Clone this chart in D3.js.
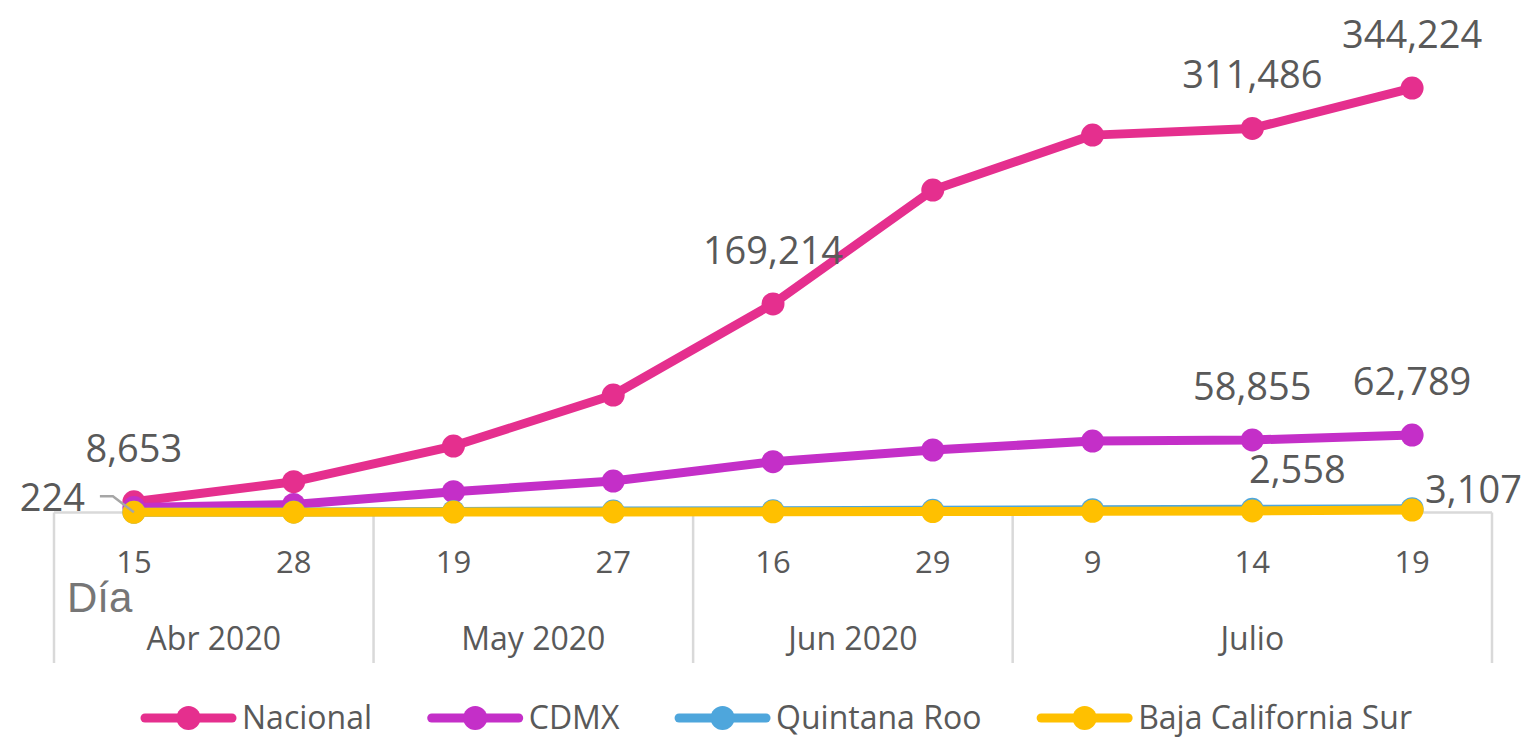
<!doctype html>
<html>
<head>
<meta charset="utf-8">
<style>
  body { margin: 0; background: #fff; }
  svg text { font-family: "Open Sans", sans-serif; fill: #595959; }
</style>
</head>
<body>
<script src="https://d3js.org/d3.v7.min.js"></script>
<svg id="chart" width="1526" height="737"></svg>
<script>
// categories (two-level axis)
const days = ['15', '28', '19', '27', '16', '29', '9', '14', '19'];
const months = ['Abr 2020', 'May 2020', 'Jun 2020', 'Julio'];
const monthSpans = [2, 2, 2, 3];

// series values
const seriesNames = ['Nacional', 'CDMX', 'Quintana Roo', 'Baja California Sur'];
const nacional = [8653, 25000, 53900, 95300, 169214, 261500, 306100, 311486, 344224];
const cdmx = [4000, 6500, 16900, 25500, 41200, 50700, 57900, 58855, 62789];
const quintanaRoo = [224, 500, 900, 1200, 1500, 1800, 2300, 2558, 3107];
const bajaCaliforniaSur = [150, 230, 350, 450, 600, 800, 1000, 1300, 2000];

const colors = ['#e52f8e', '#c42fc8', '#4ea6dc', '#ffc000'];
const allSeries = [nacional, cdmx, quintanaRoo, bajaCaliforniaSur];

// which points carry a value label and where it sits
const labelled = [
  { s: 0, i: 0, place: 'above' },
  { s: 0, i: 4, place: 'above' },
  { s: 0, i: 7, place: 'above' },
  { s: 0, i: 8, place: 'above' },
  { s: 1, i: 7, place: 'above' },
  { s: 1, i: 8, place: 'above' },
  { s: 2, i: 0, place: 'leader' },
  { s: 2, i: 7, place: 'aboveRight' },
  { s: 2, i: 8, place: 'right' }
];

const svg = d3.select('#chart');

const x = d3.scaleBand()
  .domain(d3.range(days.length))
  .range([54, 1492]);
const cx = i => x(i) + x.bandwidth() / 2;

const y = d3.scaleLinear()
  .domain([0, 350000])
  .range([512.5, 81]);

const fmt = d3.format(',');
const grid = '#d9d9d9';

// axis: baseline and group separators
svg.append('line')
  .attr('x1', x.range()[0]).attr('x2', x.range()[1])
  .attr('y1', y(0)).attr('y2', y(0))
  .attr('stroke', grid).attr('stroke-width', 2.5);

let start = 0;
const bounds = [0];
monthSpans.forEach(n => { start += n; bounds.push(start); });
bounds.forEach(b => {
  const bx = b < days.length ? x(b) : x.range()[1];
  svg.append('line')
    .attr('x1', bx).attr('x2', bx)
    .attr('y1', y(0)).attr('y2', 663)
    .attr('stroke', grid).attr('stroke-width', 2.5);
});

// day ticks via d3 axis
const xAxis = d3.axisBottom(x)
  .tickSize(0)
  .tickPadding(0)
  .tickFormat(i => days[i]);
const gAxis = svg.append('g')
  .attr('transform', 'translate(0,551)')
  .call(xAxis);
gAxis.select('.domain').remove();
gAxis.selectAll('text')
  .attr('font-size', 31)
  .attr('font-family', '"Open Sans", sans-serif')
  .attr('fill', '#595959')
  .attr('dy', 0).attr('y', 22);

// month labels
months.forEach((m, k) => {
  const a = x(bounds[k]);
  const b = bounds[k + 1] < days.length ? x(bounds[k + 1]) : x.range()[1];
  svg.append('text')
    .attr('x', (a + b) / 2).attr('y', 650)
    .attr('text-anchor', 'middle')
    .attr('font-size', 32)
    .text(m);
});

svg.append('text')
  .attr('x', 67).attr('y', 612)
  .attr('font-size', 42)
  .style('font-family', '"Liberation Sans", Arial, sans-serif')
  .style('fill', '#767676')
  .text('Día');

// series
const line = d3.line()
  .x((d, i) => cx(i))
  .y(d => y(d));

allSeries.forEach((vals, s) => {
  const g = svg.append('g');
  g.append('path')
    .datum(vals)
    .attr('d', line)
    .attr('fill', 'none')
    .attr('stroke', colors[s])
    .attr('stroke-width', 9)
    .attr('stroke-linejoin', 'round');
  g.selectAll('circle')
    .data(vals)
    .join('circle')
    .attr('cx', (d, i) => cx(i))
    .attr('cy', d => y(d))
    .attr('r', 11.5)
    .attr('fill', colors[s]);
});

// value labels
labelled.forEach(l => {
  const v = allSeries[l.s][l.i];
  const px = cx(l.i), py = y(v);
  const t = svg.append('text').attr('font-size', 38).text(fmt(v));
  if (l.place === 'above') {
    t.attr('x', px).attr('y', py - 40).attr('text-anchor', 'middle');
  } else if (l.place === 'aboveRight') {
    t.attr('x', px + 45).attr('y', py - 26).attr('text-anchor', 'middle');
  } else if (l.place === 'right') {
    t.attr('x', px + 13).attr('y', py - 6).attr('text-anchor', 'start');
  } else if (l.place === 'leader') {
    t.attr('x', px - 49).attr('y', py - 1).attr('text-anchor', 'end');
    svg.append('polyline')
      .attr('points', [[px - 34, py - 16], [px - 21, py - 16], [px, py]].map(p => p.join(',')).join(' '))
      .attr('fill', 'none')
      .attr('stroke', '#a6a6a6')
      .attr('stroke-width', 2.5);
  }
});

// legend, spread between the reference's left and right extents
const legend = svg.append('g').attr('transform', 'translate(145,718)');
const items = seriesNames.map((name, s) => {
  const item = legend.append('g');
  item.append('line')
    .attr('x1', 0).attr('x2', 87).attr('y1', 0).attr('y2', 0)
    .attr('stroke', colors[s]).attr('stroke-width', 9).attr('stroke-linecap', 'round');
  item.append('circle')
    .attr('cx', 43.5).attr('cy', 0).attr('r', 12)
    .attr('fill', colors[s]);
  const t = item.append('text')
    .attr('x', 97).attr('y', 11)
    .attr('font-size', 32)
    .text(name);
  return { item, w: 97 + t.node().getComputedTextLength() };
});
const totalW = 1412 - 145;
const gap = (totalW - d3.sum(items, d => d.w)) / (items.length - 1);
let lx = 0;
items.forEach(d => {
  d.item.attr('transform', `translate(${lx},0)`);
  lx += d.w + gap;
});
</script>
</body>
</html>
